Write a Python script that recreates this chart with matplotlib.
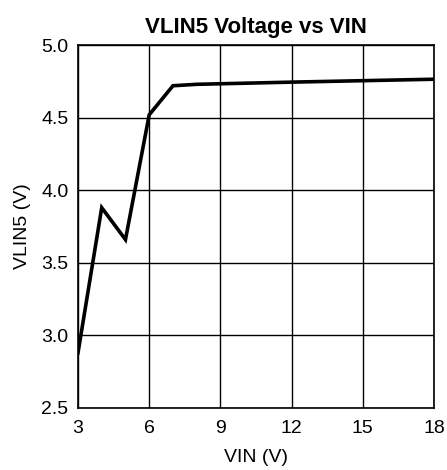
import matplotlib
matplotlib.use("Agg")
import matplotlib.pyplot as plt

plt.rcParams["font.family"] = ["Liberation Sans", "DejaVu Sans"]

# VIN (V) and VLIN5 (V)
vin = [3, 4, 5, 6, 7, 8, 12, 15, 18]
vlin5 = [2.88, 3.88, 3.66, 4.52, 4.72, 4.73, 4.745, 4.755, 4.765]

x_ticks = [3, 6, 9, 12, 15, 18]
y_ticks = [2.5, 3.0, 3.5, 4.0, 4.5, 5.0]

fig = plt.figure(figsize=(4.47, 4.70), dpi=100)
ax = fig.add_axes([0.1745, 0.132, 0.7965, 0.772])

ax.plot(vin, vlin5, color="black", lw=2.6, solid_joinstyle="miter", zorder=3)

ax.set_xlim(3, 18)
ax.set_ylim(2.5, 5.0)
ax.set_xticks(x_ticks)
ax.set_yticks(y_ticks)
ax.set_yticklabels([f"{v:.1f}" for v in y_ticks])
ax.grid(True, color="black", lw=1.0)
ax.tick_params(length=0, labelsize=14)
ax.tick_params(axis="x", pad=9)
ax.tick_params(axis="y", pad=7)
for s in ax.spines.values():
    s.set_linewidth(1.2)

ax.set_title("VLIN5 Voltage vs VIN", fontsize=16, fontweight="bold", pad=9)
ax.set_xlabel("VIN (V)", fontsize=14, labelpad=8)
ax.set_ylabel("VLIN5 (V)", fontsize=14, labelpad=7)

fig.savefig("out.png")
